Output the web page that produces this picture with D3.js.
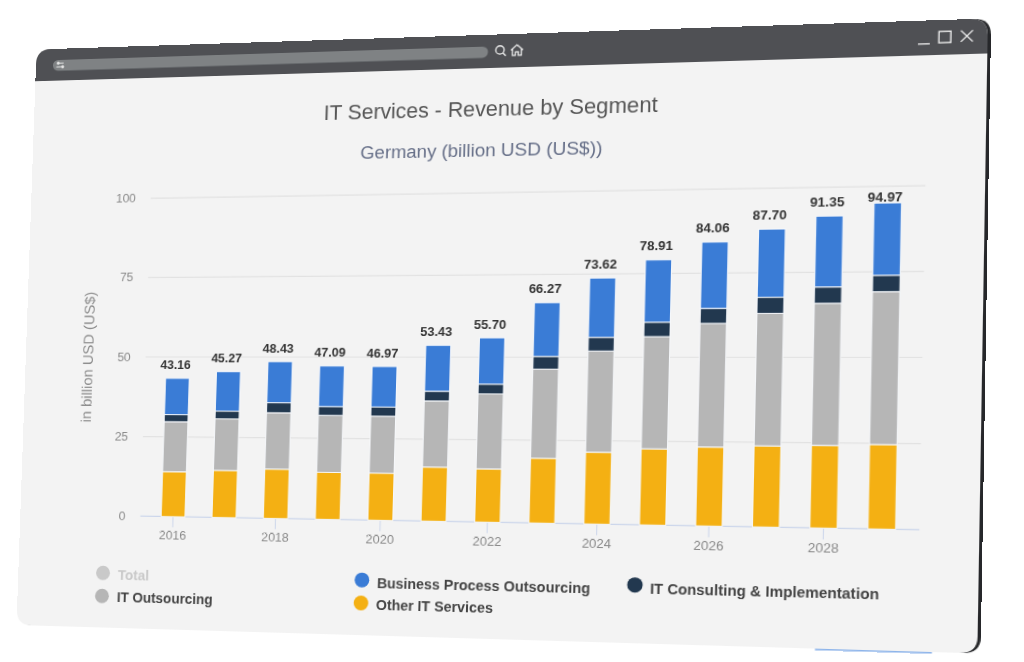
<!DOCTYPE html>
<html><head><meta charset="utf-8">
<script src="https://cdn.jsdelivr.net/npm/d3@7"></script>
<style>
html,body{margin:0;padding:0;background:#fff;width:1024px;height:662px;overflow:hidden}
#soft{position:absolute;left:0;top:0;width:1024px;height:662px;filter:blur(0.6px)}
#win{position:absolute;left:0;top:0;width:960px;height:610px;transform-origin:0 0}
svg{overflow:visible;display:block}
text{font-family:"Liberation Sans",Arial,sans-serif}
</style></head><body>
<div id="soft"><div id="win"><svg id="chart" width="960" height="610"></svg></div></div>
<script>
const years = ["2016","2017","2018","2019","2020","2021","2022","2023","2024","2025","2026","2027","2028","2029"];
const otherIT = [14.0,14.6,15.2,14.4,14.36,16.4,16.06,19.44,21.44,22.6,23.3,23.8,24.1,24.5];
const outsourcing = [15.6,16.0,17.4,17.5,17.4,20.1,22.66,26.8,30.26,33.4,36.6,39.0,41.6,44.5];
const consulting = [2.2,2.4,3.1,2.7,2.8,2.97,2.95,3.83,4.1,4.3,4.46,4.75,4.8,4.8];
const bpo = [11.36,12.27,12.73,12.49,12.41,13.96,14.03,16.2,17.82,18.61,19.7,20.15,20.85,21.17];
const totals = [43.16,45.27,48.43,47.09,46.97,53.43,55.70,66.27,73.62,78.91,84.06,87.70,91.35,94.97];
const yTicks = [0,25,50,75,100];
const xTicks = ["2016","2018","2020","2022","2024","2026","2028"];
const seriesColors = ["#f4b013","#b6b6b6","#22384f","#3a7cd6"];
const titleText = "IT Services - Revenue by Segment";
const subtitleText = "Germany (billion USD (US$))";
const yLabel = "in billion USD (US$)";

const W = 960, H = 610;
const quad = [[36.5,49.5],[988,18.5],[977.5,653.5],[16.5,625]];
function homography(q){
  const [p0,p1,p2,p3] = q;
  const dx1=p1[0]-p2[0], dy1=p1[1]-p2[1], dx2=p3[0]-p2[0], dy2=p3[1]-p2[1];
  const sx=p0[0]-p1[0]+p2[0]-p3[0], sy=p0[1]-p1[1]+p2[1]-p3[1];
  const d=dx1*dy2-dx2*dy1;
  const g=(sx*dy2-dx2*sy)/d, h=(dx1*sy-sx*dy1)/d;
  return {a:p1[0]-p0[0]+g*p1[0], b:p3[0]-p0[0]+h*p3[0], c:p0[0],
          d:p1[1]-p0[1]+g*p1[1], e:p3[1]-p0[1]+h*p3[1], f:p0[1], g, h};
}
const M = homography(quad);
d3.select("#win").style("transform",
  `matrix3d(${M.a/W},${M.d/W},0,${M.g/W},${M.b/H},${M.e/H},0,${M.h/H},0,0,1,0,${M.c},${M.f},0,1)`);
// page position -> flat window position
function L(px,py){
  const A=M.a-M.g*px, B=M.b-M.h*px, C=px-M.c, D=M.d-M.g*py, E=M.e-M.h*py, F=py-M.f;
  const det=A*E-B*D;
  return {x:(C*E-B*F)/det*W, y:(A*F-C*D)/det*H};
}

const svg = d3.select("#chart");
const r = 16;
const winPath = `M${r},0H${W-r}Q${W},0 ${W},${r}V${H-r}Q${W},${H} ${W-r},${H}H${r}Q0,${H} 0,${H-r}V${r}Q0,0 ${r},0Z`;
const defs = svg.append("defs");
defs.append("clipPath").attr("id","wclip").append("path").attr("d",winPath);

// thin strip under the lower edge, dark edge on the right
const sL=L(815,652), sR=L(932,655);
svg.append("line").attr("x1",sL.x).attr("x2",sR.x).attr("y1",H+0.7).attr("y2",H+0.7)
   .attr("stroke","#8db4ea").attr("stroke-width",1.4);
svg.append("path").attr("d",winPath).attr("transform","translate(3,0)").attr("fill","#26272a");
svg.append("path").attr("d",winPath).attr("fill","#f3f3f3");
const chrome = svg.append("g").attr("clip-path","url(#wclip)");
chrome.append("rect").attr("width",W+4).attr("height",34).attr("fill","#4f5054");

// address bar and its icons
const uA=L(53,65), uB=L(488,52);
chrome.append("rect").attr("x",uA.x).attr("y",(uA.y+uB.y)/2-5.5).attr("width",uB.x-uA.x).attr("height",11.5).attr("rx",5.7).attr("fill","#7f8284");
const sl=L(60,65), slG=chrome.append("g").attr("transform",`translate(${sl.x},${sl.y})`)
  .attr("fill","none").attr("stroke","#e8e8e8").attr("stroke-width",1);
slG.append("path").attr("d","M-3,-2H4M-4,2H3");
slG.append("circle").attr("cx",-2).attr("cy",-2).attr("r",1.2).attr("fill","#e8e8e8");
slG.append("circle").attr("cx",3).attr("cy",2).attr("r",1.2).attr("fill","#e8e8e8");
const se=L(500,50), seG=chrome.append("g").attr("transform",`translate(${se.x},${se.y})`)
  .attr("fill","none").attr("stroke","#f2f2f2").attr("stroke-width",1.3);
seG.append("circle").attr("r",4.2);
seG.append("path").attr("d","M3,3L6,6");
const ho=L(517,50);
chrome.append("path").attr("transform",`translate(${ho.x},${ho.y})`)
  .attr("d","M-6,0L0,-5.5L6,0M-4.5,-1V5.5H-1.5V2H1.5V5.5H4.5V-1")
  .attr("fill","none").attr("stroke","#f2f2f2").attr("stroke-width",1.2);
const mi=L(924,42), ma=L(945,37), cl=L(967,36);
const wc=chrome.append("g").attr("fill","none").attr("stroke","#f2f2f2").attr("stroke-width",1.3);
wc.append("path").attr("transform",`translate(${mi.x},${mi.y})`).attr("d","M-5.5,2H5.5");
wc.append("rect").attr("transform",`translate(${ma.x},${ma.y})`).attr("x",-5.5).attr("y",-5.5).attr("width",11).attr("height",11);
wc.append("path").attr("transform",`translate(${cl.x},${cl.y})`).attr("d","M-5.5,-5.5L5.5,5.5M5.5,-5.5L-5.5,5.5");

// titles
const tP=L(488,108.5), sP=L(480,150);
svg.append("text").attr("x",tP.x).attr("y",tP.y).attr("dy","0.35em").attr("text-anchor","middle")
  .attr("font-size",21.8).attr("fill","#555").text(titleText);
svg.append("text").attr("x",sP.x).attr("y",sP.y).attr("dy","0.35em").attr("text-anchor","middle")
  .attr("font-size",19).attr("fill","#666f88").text(subtitleText);

// plot frame
const b0=L(141,516), b1=L(920,530), t0=L(150,198), t1=L(925,185);
const plotLeft=(b0.x+t0.x)/2, plotRight=(b1.x+t1.x)/2, y0=(b0.y+b1.y)/2, y100=(t0.y+t1.y)/2;
const x = d3.scaleBand().domain(years).range([plotLeft+8,plotRight-7.5]).paddingInner(0.53).paddingOuter(0.265);
const y = d3.scaleLinear().domain([0,100]).range([y0,y100]);

const gy = svg.append("g").attr("transform",`translate(${plotLeft},0)`)
  .call(d3.axisLeft(y).tickValues(yTicks).tickSize(-(plotRight-plotLeft)).tickPadding(16));
gy.select(".domain").remove();
gy.selectAll("line").attr("stroke","#e2e2e2").attr("stroke-width",1.2);
gy.selectAll("line").filter(d=>d===0).remove();
gy.selectAll("text").attr("font-size",13).attr("fill","#8a8a8a").style("font-family",'"Liberation Sans"');

svg.append("line").attr("x1",plotLeft).attr("x2",plotRight).attr("y1",y0).attr("y2",y0).attr("stroke","#ccd6eb").attr("stroke-width",1.3);
const gx = svg.append("g").attr("transform",`translate(0,${y0})`)
  .call(d3.axisBottom(x).tickValues(xTicks).tickSize(11).tickSizeOuter(0).tickPadding(3));
gx.select(".domain").remove();
gx.selectAll("line").attr("stroke","#ccd6eb");
gx.selectAll("text").attr("font-size",13).attr("fill","#8a8a8a").style("font-family",'"Liberation Sans"');

const yl=L(88,357);
svg.append("text").attr("transform",`translate(${yl.x},${yl.y}) rotate(-90)`).attr("text-anchor","middle").attr("dy","0.35em")
  .attr("font-size",15.5).attr("fill","#8a8a8a").text(yLabel);

// stacked bars
const rows = years.map((yr,i)=>({year:yr,o:otherIT[i],t:outsourcing[i],c:consulting[i],b:bpo[i]}));
const stacked = d3.stack().keys(["o","t","c","b"])(rows);
svg.append("g").selectAll("g").data(stacked).join("g").attr("fill",(d,i)=>seriesColors[i])
  .selectAll("rect").data(d=>d).join("rect")
  .attr("x",d=>x(d.data.year)).attr("width",x.bandwidth())
  .attr("y",d=>y(d[1])).attr("height",d=>y(d[0])-y(d[1]))
  .attr("stroke","#f6f8fb").attr("stroke-width",1);

svg.append("g").selectAll("text").data(totals).join("text")
  .attr("x",(d,i)=>x(years[i])+x.bandwidth()/2-2.5).attr("y",d=>Math.max(y(d)-9.5,y100+15))
  .attr("text-anchor","middle").attr("font-size",13).attr("font-weight","bold").attr("fill","#333")
  .text(d=>d3.format(".2f")(d));

// legend
const legendNames = ["Total","IT Outsourcing","Business Process Outsourcing","Other IT Services","IT Consulting & Implementation"];
const legendColors = ["#c9c9c9","#b6b6b6","#3a7cd6","#f4b013","#22384f"];
const legendTextColors = ["#c9c9c9","#444","#444","#444","#444"];
const legendDots = [[103,573],[102,596],[362,580],[361,603],[635,585]];
const legendAnchors = [[118,574.5],[117,597.5],[377,583],[376,604.5],[650,589]];
const lg = svg.append("g");
legendNames.forEach((n,i)=>{
  const c=L(...legendDots[i]), t=L(...legendAnchors[i]);
  lg.append("circle").attr("cx",c.x).attr("cy",c.y).attr("r",7.5).attr("fill",legendColors[i]);
  lg.append("text").attr("x",t.x).attr("y",t.y).attr("dy","0.35em").attr("font-size",14.4).attr("font-weight","bold")
    .attr("fill",legendTextColors[i]).text(n);
});
</script></body></html>
